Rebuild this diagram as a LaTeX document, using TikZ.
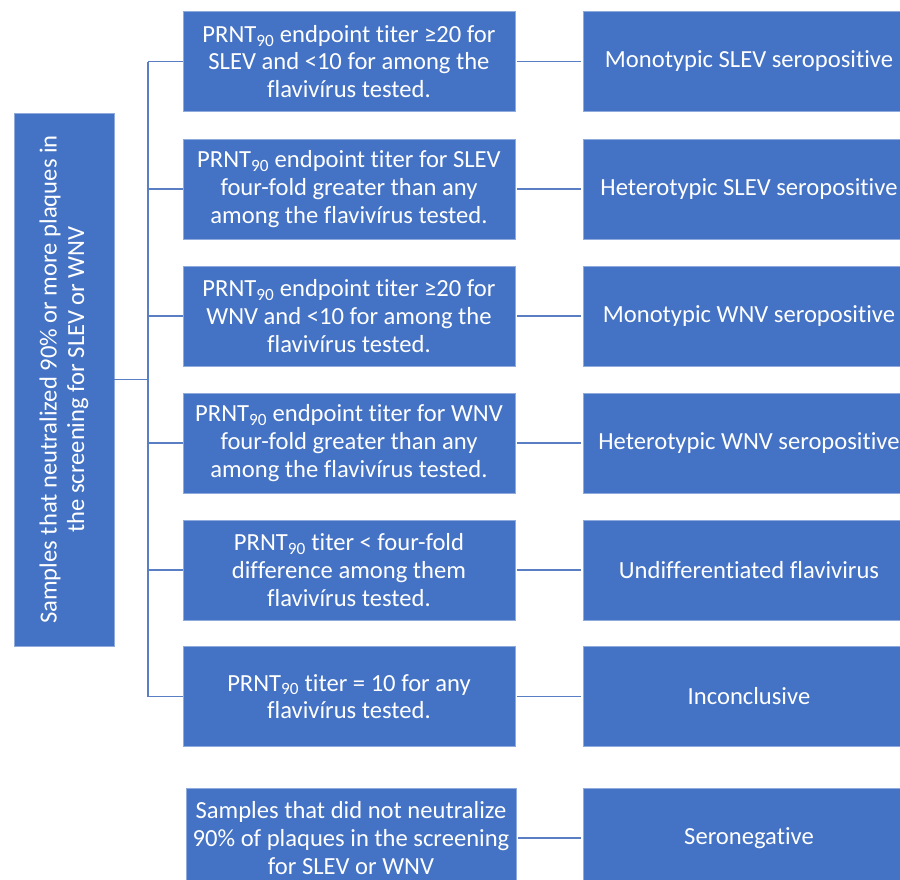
\documentclass[tikz,border=0pt]{standalone}
\usepackage{fontspec}
\setmainfont{Carlito}[Ligatures={NoCommon}]
\definecolor{boxblue}{HTML}{4472C4}
\definecolor{edgeblue}{HTML}{8FAADC}
\definecolor{linkblue}{HTML}{5A7EC4}
\newcommand{\prnt}{PRNT\textsubscript{90}}
\begin{document}
\begin{tikzpicture}[x=1pt,y=-1pt,
  box/.style={fill=boxblue, draw=edgeblue, line width=0.6pt, text=white, align=center,
    minimum width=332pt, minimum height=100pt, inner sep=0pt,
    font=\fontsize{24.6}{27.6}\selectfont},
  link/.style={draw=linkblue, line width=1.4pt}]
\useasboundingbox (0,0) rectangle (900,879);
\clip (0,0) rectangle (900,879);
% source
\node[box, rotate=90, minimum width=533pt, minimum height=100pt] (src) at (64,379.5)
  {Samples that neutralized 90\% or more plaques in\\the screening for SLEV or WNV};
% middle column
\node[box] (m1) at (349,61.5) {\prnt{} endpoint titer ≥20 for\\SLEV and <10 for among the\\flavivírus tested.};
\node[box] (m2) at (349,189) {\prnt{} endpoint titer for SLEV\\four-fold greater than any\\among the flavivírus tested.};
\node[box] (m3) at (349,316) {\prnt{} endpoint titer ≥20 for\\WNV and <10 for among the\\flavivírus tested.};
\node[box] (m4) at (349,443) {\prnt{} endpoint titer for WNV\\four-fold greater than any\\among the flavivírus tested.};
\node[box] (m5) at (349,570) {\prnt{} titer < four-fold\\difference among them\\flavivírus tested.};
\node[box] (m6) at (349,696.5) {\prnt{} titer = 10 for any\\flavivírus tested.};
\node[box, minimum width=330pt] (m7) at (351,838) {Samples that did not neutralize\\90\% of plaques in the screening\\for SLEV or WNV};
% right column
\node[box] (r1) at (749,61.5) {Monotypic SLEV seropositive};
\node[box] (r2) at (749,189) {Heterotypic SLEV seropositive};
\node[box] (r3) at (749,316) {Monotypic WNV seropositive};
\node[box] (r4) at (749,443) {Heterotypic WNV seropositive};
\node[box] (r5) at (749,570) {Undifferentiated flavivirus};
\node[box] (r6) at (749,696.5) {Inconclusive};
\node[box] (r7) at (749,838) {Seronegative};
% trunk
\coordinate (ttop) at (148,61.5);
\coordinate (tbot) at (148,696.5);
\draw[link] (ttop) -- (tbot);
\draw[link] (src.south) -- (src.south -| ttop);
\foreach \i in {1,...,6} {
  \draw[link] (m\i.west) -- (m\i.west -| ttop);
}
\foreach \i in {1,...,7} {
  \draw[link] ([xshift=2pt]m\i.east) -- ([xshift=-2pt]r\i.west);
}
\end{tikzpicture}
\end{document}
